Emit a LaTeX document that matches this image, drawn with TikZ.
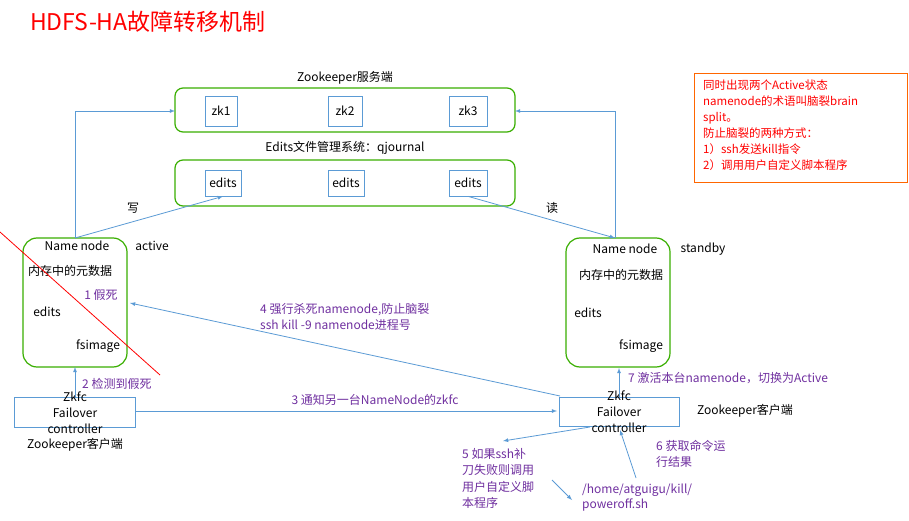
\documentclass[tikz,border=0pt]{standalone}
\usepackage{fontspec}
\setmainfont{Noto Sans CJK SC}
\definecolor{arr}{RGB}{91,155,213}
\definecolor{pur}{RGB}{112,48,160}
\begin{document}
\begin{tikzpicture}[x=1pt,y=-1pt,
  t/.style={font=\fontsize{12}{14}\selectfont,inner sep=0pt},
  pu/.style={t,text=pur},
  grn/.style={draw=green!55!black!70!lime,line width=1.2pt,rounded corners=8pt},
  bl/.style={draw=arr,line width=0.7pt},
  ar/.style={draw=arr,line width=0.8pt,-latex}]
\useasboundingbox (0,0) rectangle (909,521);
\fill[white] (0,0) rectangle (909,521);
\node[anchor=west,text=red,font=\fontsize{23}{26}\selectfont,inner sep=0pt] (title) at (30,22) {HDFS-HA故障转移机制};
% zookeeper
\node[t] (zkl) at (345,78) {Zookeeper服务端};
\draw[grn] (175,88) rectangle (515,132);
\coordinate (zkL) at (175,111); \coordinate (zkR) at (515,111);
\node[bl,t,minimum width=32,minimum height=30] (zk1) at (221,111) {zk1};
\node[bl,t,minimum width=34,minimum height=30] (zk2) at (345,111) {zk2};
\node[bl,t,minimum width=38,minimum height=30] (zk3) at (468,111) {zk3};
% edits
\node[t] (edl) at (345,148) {Edits文件管理系统：qjournal};
\draw[grn] (175,160) rectangle (515,206);
\node[bl,t,minimum width=36,minimum height=26] (e1) at (223,183) {edits};
\node[bl,t,minimum width=36,minimum height=26] (e2) at (346,183) {edits};
\node[bl,t,minimum width=38,minimum height=26] (e3) at (468,183) {edits};
% left NN
\draw[grn,rounded corners=14pt] (23,238) rectangle (127,367);
\coordinate (nnLt) at (75,238); \coordinate (nnLb) at (75,367); \coordinate (nnLr) at (130,303);
\node[t] (a1) at (77,246) {Name node};
\node[t] (a2) at (152,246) {active};
\node[t] (a3) at (70,271) {内存中的元数据};
\node[pu] (a4) at (101,295) {1 假死};
\node[t] (a5) at (47,312) {edits};
\node[t] (a6) at (98,346) {fsimage};
\draw[red,line width=0.8pt] (0,232) -- (160,375);
% right NN
\draw[grn,rounded corners=14pt] (566,238) rectangle (670,367);
\coordinate (nnRt) at (615,238); \coordinate (nnRb) at (619,368);
\node[t] (b1) at (625,249) {Name node};
\node[t] (b2) at (703,249) {standby};
\node[t] (b3) at (621,275) {内存中的元数据};
\node[t] (b5) at (588,313) {edits};
\node[t] (b6) at (641,346) {fsimage};
% arrows top
\draw[ar] (nnLt) |- (zkL);
\draw[ar] (nnRt) |- (zkR);
\draw[ar] (nnLt) -- (e1.south);
\draw[ar] (e3.south) -- (nnRt);
\node[t] (w) at (133,208) {写};
\node[t] (r) at (552,208) {读};
% zkfc
\draw[bl] (14,397) rectangle (135,427);
\node[t,align=center,font=\fontsize{12}{16}\selectfont] (zfL) at (75,413) {Zkfc\\Failover\\controller};
\node[t] (zcL) at (75,445) {Zookeeper客户端};
\draw[bl] (559,397) rectangle (679,426);
\node[t,align=center,font=\fontsize{12}{16}\selectfont] (zfR) at (619,412) {Zkfc\\Failover\\controller};
\node[t] (zcR) at (745,411) {Zookeeper客户端};
\coordinate (zLt) at (75,397); \coordinate (zLr) at (135,411);
\coordinate (zRl) at (557,411); \coordinate (zRtl) at (560,396); \coordinate (zRt) at (619,397);
\draw[ar] (zLt) -- (nnLb);
\node[pu,anchor=west] (l2) at (82,384) {2 检测到假死};
\draw[ar] (zLr) -- (zRl);
\node[pu] (l3) at (375,400) {3 通知另一台NameNode的zkfc};
\draw[ar] (zRtl) -- (nnLr);
\node[pu,anchor=west,align=left,font=\fontsize{12}{16}\selectfont] (l4) at (260,317) {4 强行杀死namenode,防止脑裂\\ssh kill -9 namenode进程号};
\draw[ar] (zRt) -- (nnRb);
\node[pu,anchor=west] (l7) at (628,378) {7 激活本台namenode，切换为Active};
\coordinate (c5a) at (590,427); \coordinate (c5b) at (503,441);
\draw[ar] (c5a) -- (c5b);
\node[pu,anchor=north west,align=left,font=\fontsize{12}{16.5}\selectfont] (l5) at (462,448) {5 如果ssh补\\刀失败则调用\\用户自定义脚\\本程序};
\coordinate (c6a) at (552,480); \coordinate (c6b) at (572,500);
\draw[ar] (c6a) -- (c6b);
\node[pu,anchor=west,align=left,font=\fontsize{12}{15}\selectfont] (sc) at (582,498) {/home/atguigu/kill/\\poweroff.sh};
\coordinate (c7a) at (636,478); \coordinate (c7b) at (620,430);
\draw[ar] (c7a) -- (c7b);
\node[pu,anchor=west,align=left,font=\fontsize{12}{16}\selectfont] (l6) at (656,454) {6 获取命令运\\行结果};
% note
\draw[draw=orange!80!red,line width=0.8pt] (694,73) rectangle (907,182);
\node[t,text=red,anchor=north west,align=left,font=\fontsize{11.5}{16}\selectfont] (note) at (703,80) {同时出现两个Active状态\\namenode的术语叫脑裂brain\\split。\\防止脑裂的两种方式：\\1）ssh发送kill指令\\2）调用用户自定义脚本程序};
\end{tikzpicture}
\end{document}
